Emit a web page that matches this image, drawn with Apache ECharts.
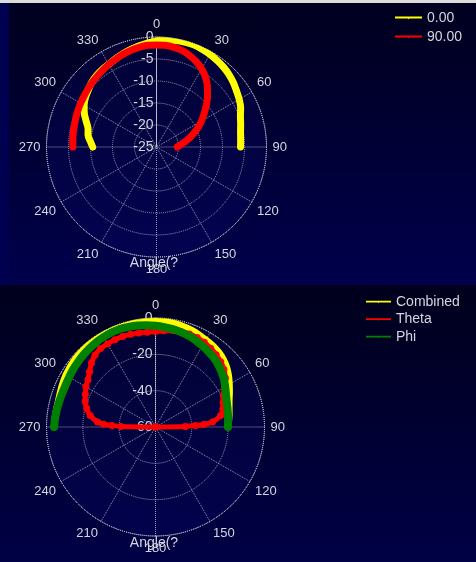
<!DOCTYPE html>
<html>
<head>
<meta charset="utf-8">
<script src="https://cdn.jsdelivr.net/npm/echarts@6/dist/echarts.min.js"></script>
<style>
body { margin: 0; background: #dcdcdc; }
#wrap { position: relative; width: 476px; height: 562px; overflow: hidden; }
#bgTop { position: absolute; left: 0; top: 3px; width: 476px; height: 282px; background: linear-gradient(#00001e, #00004c); }
#bgStrip { position: absolute; left: 0; top: 3px; width: 9px; height: 282px; background: #000050; }
#bgBottom { position: absolute; left: 0; top: 285px; width: 476px; height: 277px; background: linear-gradient(#00001c, #000046); }
#chart { position: absolute; left: 0; top: 0; width: 476px; height: 562px; }
</style>
</head>
<body>
<div id="wrap">
  <div id="bgTop"></div>
  <div id="bgStrip"></div>
  <div id="bgBottom"></div>
  <div id="chart"></div>
</div>
<script>
// angles in degrees, -90..90 written as 270..355, 0..90
var angles = [270, 275, 280, 285, 290, 295, 300, 305, 310, 315, 320, 325, 330, 335, 340, 345, 350, 355,
              0, 5, 10, 15, 20, 25, 30, 35, 40, 45, 50, 55, 60, 65, 70, 75, 80, 85, 90];

// top chart (dB)
var cut0 = [-10.5, -9.9, -9.2, -8.9, -8.0, -6.9, -6.0, -5.3, -4.8, -4.2, -3.8, -3.5, -3.3, -2.9, -2.5, -2.1, -1.7, -1.3,
            -0.9, -0.6, -0.4, -0.3, -0.3, -0.5, -0.7, -1.0, -1.3, -1.7, -2.2, -2.8, -3.3, -3.9, -4.7, -5.2, -5.6, -5.8, -5.9];
var cut90 = [-6.0, -5.9, -5.8, -5.7, -5.5, -5.3, -5.1, -4.9, -4.6, -4.3, -4.0, -3.7, -3.3, -3.0, -2.6, -2.3, -2.0, -1.8,
             -1.8, -1.8, -2.0, -2.3, -2.9, -3.6, -4.5, -5.6, -7.0, -8.6, -10.2, -11.8, -13.2, -14.6, -16.0, -17.3, -18.5, -19.5, -20.3];

// bottom chart (dB)
var combined = [-4.0, -4.2, -4.4, -4.4, -4.0, -3.4, -2.8, -2.3, -1.9, -1.5, -1.2, -1.0, -0.8, -0.6, -0.5, -0.5, -0.6, -0.8,
                -1.1, -1.4, -1.8, -2.3, -2.9, -3.6, -4.4, -5.0, -5.8, -7.0, -8.6, -10.6, -12.8, -14.8, -16.6, -17.8, -18.6, -19.3, -19.8];
var phi = [-4.2, -4.5, -4.9, -5.2, -5.4, -5.4, -5.1, -4.7, -4.3, -3.9, -3.5, -3.1, -2.8, -2.6, -2.6, -2.9, -3.3, -3.8,
           -4.3, -4.8, -5.3, -5.9, -6.6, -7.4, -8.4, -9.3, -10.2, -11.3, -12.6, -14.0, -15.7, -17.2, -18.3, -19.0, -19.5, -19.9, -20.1];
var thetaAngles = [270, 271, 272, 273, 275, 280, 285, 290, 295, 300, 305, 310, 315, 320, 325, 330, 335, 340, 345, 350, 355,
                   0, 5, 10, 15, 20, 25, 30, 35, 40, 45, 50, 55, 60, 65, 70, 75, 80, 85, 87, 88, 89, 90];
var theta = [-60, -41, -36, -31.5, -28, -23.5, -20.8, -18.8, -17.4, -15.8, -14.6, -12.6, -10.2, -8.2, -7.3, -7.2, -7.0, -7.0, -7.2, -7.4, -7.6,
             -7.4, -6.8, -6.0, -5.6, -5.5, -5.7, -6.2, -7.0, -8.0, -9.2, -10.8, -13.0, -16.2, -18.8, -20.4, -21.6, -23.6, -28.5, -33.4, -38, -43.6, -60];

var topNames = ['0.00', '90.00'];
var bottomNames = ['Combined', 'Theta', 'Phi'];

function pairs(vals, angs) {
    return vals.map(function (v, i) { return [v, angs[i]]; });
}

var gridColor = '#c4c4d0';
var labelColor = '#d4d5de';
var legendIcon = 'path://M0,3h28v2H0z M12,3h4l-2,3z';

function angleAxis(idx) {
    return {
        polarIndex: idx,
        type: 'value',
        min: 0,
        max: 360,
        interval: 30,
        startAngle: 90,
        clockwise: true,
        axisLine: { show: true, lineStyle: { color: gridColor, type: 'dotted', width: 1 } },
        axisTick: { show: false },
        axisLabel: { color: labelColor, fontSize: 13, fontFamily: 'Liberation Sans', margin: 6 },
        splitLine: { show: true, lineStyle: { color: gridColor, type: 'dotted', width: 1 } },
        splitArea: { show: true, areaStyle: { color: ['rgba(10,10,120,0.22)'] } }
    };
}

function radiusAxis(idx, min, step) {
    return {
        polarIndex: idx,
        type: 'value',
        min: min,
        max: 0,
        interval: step,
        axisLine: { show: true, lineStyle: { color: gridColor, type: 'dotted', width: 1 } },
        axisTick: { show: false },
        axisLabel: { color: labelColor, fontSize: 14, fontFamily: 'Liberation Sans', margin: 3 },
        splitLine: { show: true, lineStyle: { color: gridColor, type: 'dotted', width: 1 } }
    };
}

function lineSeries(name, idx, color, data, width, size, z) {
    return {
        name: name,
        type: 'line',
        coordinateSystem: 'polar',
        polarIndex: idx,
        data: data,
        z: z,
        smooth: 0.3,
        symbol: 'circle',
        symbolSize: size,
        showSymbol: size > 0,
        itemStyle: { color: color },
        lineStyle: { color: color, width: width, cap: 'round', join: 'round' },
        animation: false
    };
}

var chart = echarts.init(document.getElementById('chart'));
var option = {
    backgroundColor: 'transparent',
    animation: false,
    polar: [
        { center: [156.5, 147], radius: 110 },
        { center: [155.5, 427], radius: 109 }
    ],
    angleAxis: [angleAxis(0), angleAxis(1)],
    radiusAxis: [radiusAxis(0, -25, 5), radiusAxis(1, -60, 20)],
    legend: [
        {
            data: topNames, orient: 'vertical', left: 395, top: 11, itemGap: 5, padding: 0,
            itemWidth: 27, itemHeight: 8, icon: legendIcon,
            textStyle: { color: labelColor, fontSize: 14, fontFamily: 'Liberation Sans' }
        },
        {
            data: bottomNames, orient: 'vertical', left: 366, top: 295, itemGap: 3.5, padding: 0,
            itemWidth: 25, itemHeight: 8, icon: legendIcon,
            textStyle: { color: labelColor, fontSize: 14, fontFamily: 'Liberation Sans' }
        }
    ],
    graphic: [
        { type: 'text', x: 154, y: 256, style: { text: 'Angle(?', fill: labelColor, font: '14px "Liberation Sans"', textAlign: 'center' } },
        { type: 'text', x: 154, y: 536, style: { text: 'Angle(?', fill: labelColor, font: '14px "Liberation Sans"', textAlign: 'center' } }
    ],
    series: [
        lineSeries(topNames[0], 0, '#ffff00', pairs(cut0, angles), 7, 0, 2),
        lineSeries(topNames[1], 0, '#ff0000', pairs(cut90, angles), 7, 0, 3),
        lineSeries(bottomNames[0], 1, '#ffff00', pairs(combined, angles), 6, 0, 2),
        lineSeries(bottomNames[1], 1, '#ff0000', pairs(theta, thetaAngles), 5, 7, 3),
        lineSeries(bottomNames[2], 1, '#008000', pairs(phi, angles), 8, 0, 4)
    ]
};
chart.setOption(option);
</script>
</body>
</html>
